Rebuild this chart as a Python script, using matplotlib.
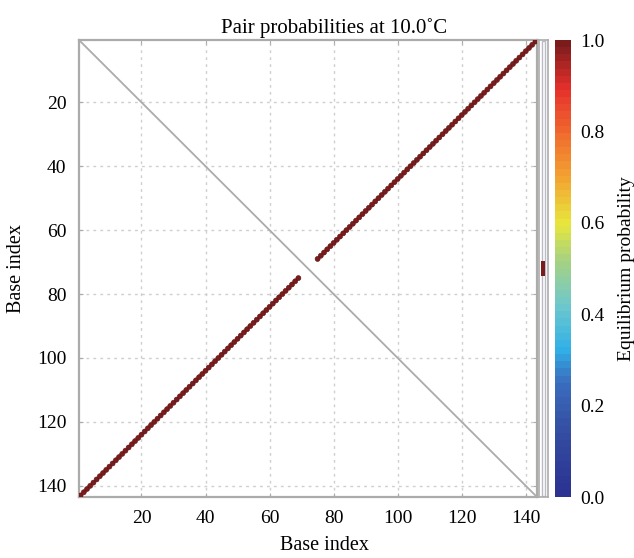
import matplotlib
matplotlib.use("Agg")
import matplotlib.pyplot as plt
import numpy as np
from matplotlib.colors import LinearSegmentedColormap
from matplotlib.patches import Rectangle

plt.rcParams['font.family'] = ['Liberation Serif', 'DejaVu Serif']

# ---- data ----
seq_length = 143
pair_i = [1, 2, 3, 4, 5, 6, 7, 8, 9, 10, 11, 12, 13, 14, 15, 16, 17, 18, 19, 20,
          21, 22, 23, 24, 25, 26, 27, 28, 29, 30, 31, 32, 33, 34, 35, 36, 37, 38, 39, 40,
          41, 42, 43, 44, 45, 46, 47, 48, 49, 50, 51, 52, 53, 54, 55, 56, 57, 58, 59, 60,
          61, 62, 63, 64, 65, 66, 67, 68, 69]
pair_j = [143, 142, 141, 140, 139, 138, 137, 136, 135, 134, 133, 132, 131, 130, 129, 128,
          127, 126, 125, 124, 123, 122, 121, 120, 119, 118, 117, 116, 115, 114, 113, 112,
          111, 110, 109, 108, 107, 106, 105, 104, 103, 102, 101, 100, 99, 98, 97, 96, 95,
          94, 93, 92, 91, 90, 89, 88, 87, 86, 85, 84, 83, 82, 81, 80, 79, 78, 77, 76, 75]
pair_prob = [1.0] * len(pair_i)
unpaired_bases = [70, 71, 72, 73, 74]
unpaired_prob = [1.0, 1.0, 1.0, 1.0, 1.0]
ticks = [20, 40, 60, 80, 100, 120, 140]
cbar_ticks = [0.0, 0.2, 0.4, 0.6, 0.8, 1.0]

cmap = LinearSegmentedColormap.from_list("pp", [
    (0.0, "#2b3291"), (0.15, "#3550a3"), (0.25, "#3a6fc0"), (0.32, "#30b0e6"),
    (0.42, "#70c8cc"), (0.52, "#a8d27e"), (0.6, "#e8e63c"), (0.7, "#f2a431"),
    (0.8, "#f06a2e"), (0.9, "#e5302c"), (1.0, "#7a1c1c")], N=64)

fig = plt.figure(figsize=(6.34, 5.58), dpi=100)
ax = fig.add_axes([0.1246, 0.1093, 0.7224, 0.819])
lo, hi = 0.5, seq_length + 0.5
ax.set_xlim(lo, hi)
ax.set_ylim(hi, lo)

gray = "#ababab"
ax.grid(True, color="#cfcfcf", linestyle=(0, (2, 3)), linewidth=1.0)
ax.set_axisbelow(True)
ax.plot([lo, hi], [lo, hi], color=gray, linewidth=1.3, zorder=2)

xs = pair_i + pair_j
ys = pair_j + pair_i
cs = pair_prob + pair_prob
ax.scatter(xs, ys, c=cs, cmap=cmap, vmin=0, vmax=1, s=13, marker='o',
           edgecolors="#5a1010", linewidths=0.4, zorder=3)

ax.set_xticks(ticks)
ax.set_yticks(ticks)
ax.tick_params(direction='in', length=3, color=gray, labelsize=14, pad=9,
               top=True, right=True)
for s in ax.spines.values():
    s.set_color(gray)
    s.set_linewidth(1.6)
ax.set_title("Pair probabilities at 10.0˚C", fontsize=15, pad=5, x=0.557)
ax.set_xlabel("Base index", fontsize=14.5, labelpad=7, x=0.537)
ax.set_ylabel("Base index", fontsize=14.5, labelpad=8)

# unpaired strip
sx = fig.add_axes([0.8502, 0.1093, 0.0134, 0.819])
sx.set_xlim(0, 1)
sx.set_ylim(hi, lo)
sx.set_xticks([])
sx.set_yticks([])
for s in sx.spines.values():
    s.set_color(gray)
    s.set_linewidth(1.2)
sx.add_patch(Rectangle((0.3, 0.003), 0.4, 0.994, transform=sx.transAxes,
                       fill=False, edgecolor="#bbbbc8", linewidth=1.0))
sx.barh(unpaired_bases, [0.5] * len(unpaired_bases), left=0.25, height=1.0,
        color=cmap(np.array(unpaired_prob)), edgecolor='none', zorder=3)

# colorbar
cx = fig.add_axes([0.8754, 0.1093, 0.0252, 0.819])
sm = plt.cm.ScalarMappable(cmap=cmap, norm=plt.Normalize(0, 1))
cb = fig.colorbar(sm, cax=cx, ticks=cbar_ticks)
cb.outline.set_visible(False)
cb.ax.tick_params(length=0, labelsize=14, pad=7)
cb.ax.set_yticklabels([f"{t:.1f}" for t in cbar_ticks])
cb.set_label("Equilibrium probability", fontsize=14, labelpad=9)

fig.savefig("out.png", dpi=100)
